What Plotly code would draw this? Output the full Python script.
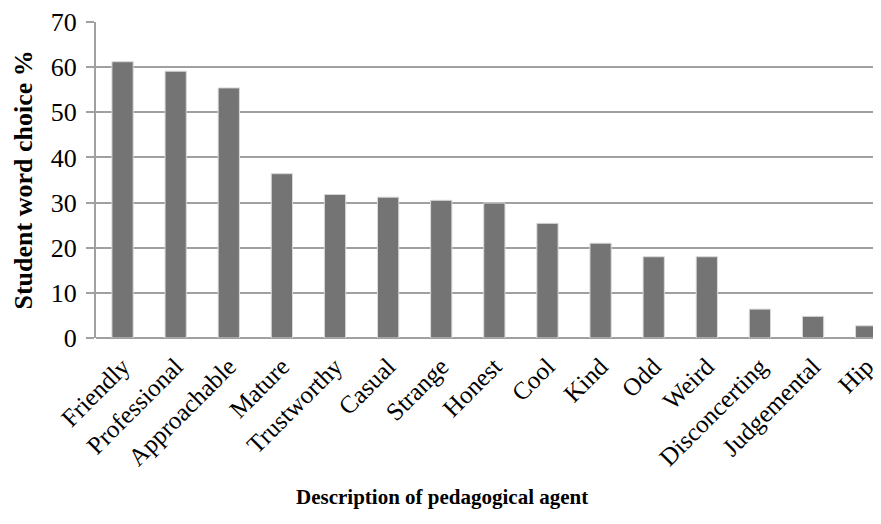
import plotly.graph_objects as go

categories = ["Friendly", "Professional", "Approachable", "Mature", "Trustworthy", "Casual",
              "Strange", "Honest", "Cool", "Kind", "Odd", "Weird", "Disconcerting",
              "Judgemental", "Hip"]
values = [61.2, 59.1, 55.4, 36.4, 31.8, 31.2, 30.5, 29.9, 25.4, 21.0, 18.0, 18.0, 6.4, 4.8, 2.7]
y_ticks = [0, 10, 20, 30, 40, 50, 60, 70]

font_family = "Liberation Serif, Times New Roman, serif"

fig = go.Figure()
fig.add_trace(go.Bar(
    x=categories, y=values,
    marker=dict(color="#747474", line=dict(color="#d9d9d9", width=1)),
    width=0.4,
))

fig.update_layout(
    width=881, height=524,
    margin=dict(l=88, r=0, t=14, b=194),
    plot_bgcolor="white", paper_bgcolor="white",
    showlegend=False,
    font=dict(family=font_family, color="black"),
    xaxis=dict(
        range=[-0.5, 14.43],
        tickangle=-45,
        tickfont=dict(size=25, family=font_family, color="black"),
        showgrid=False,
        showline=False,
        ticks="",
        ticklabelstandoff=8,
        zeroline=False,
        automargin=False,
    ),
    yaxis=dict(
        range=[0, 70],
        tickvals=y_ticks,
        tickfont=dict(size=26, family=font_family, color="black"),
        showgrid=True, gridcolor="#a0a0a0", gridwidth=2,
        showline=True, linecolor="#a0a0a0", linewidth=2,
        ticks="outside", ticklen=8, tickcolor="#a0a0a0", tickwidth=2,
        ticklabelstandoff=4,
        zeroline=True, zerolinecolor="#a0a0a0", zerolinewidth=2,
        automargin=False,
    ),
    annotations=[
        dict(text="<b>Student word choice %</b>", xref="paper", yref="paper",
             x=-88/793, y=(338-180)/316, xanchor="left", yanchor="middle", textangle=-90,
             showarrow=False, font=dict(size=26, family=font_family, color="black"),
             xshift=-2),
        dict(text="<b>Description of pedagogical agent</b>", xref="paper", yref="paper",
             x=(442-96)/793, y=0, xanchor="center", yanchor="middle",
             showarrow=False, font=dict(size=21, family=font_family, color="black"),
             yshift=-159),
    ],
)

fig.write_html("out.html")
